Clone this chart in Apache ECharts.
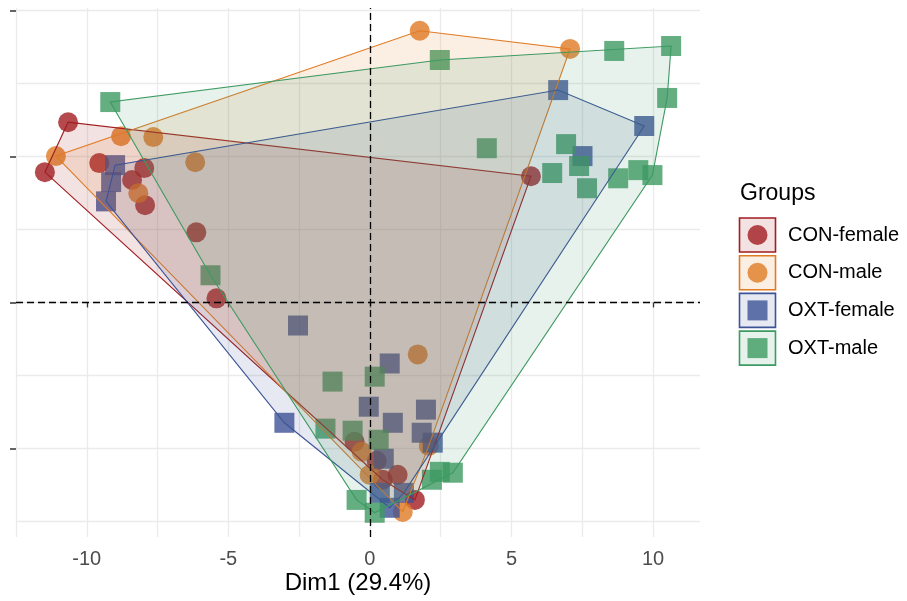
<!DOCTYPE html>
<html>
<head>
<meta charset="utf-8">
<script src="https://cdn.jsdelivr.net/npm/echarts@6/dist/echarts.min.js"></script>
<style>
html,body{margin:0;padding:0;background:#fff;}
#chart{width:907px;height:601px;}
</style>
</head>
<body>
<div id="chart"></div>
<script>
// ---- Data (Dim1, Dim2) ----
const groups = ['CON-female', 'CON-male', 'OXT-female', 'OXT-male'];
const groupColors = ['#A11D21', '#E07B24', '#3C5396', '#3D9A62'];
const groupShapes = ['circle', 'circle', 'rect', 'rect'];

const conFemaleX = [-10.66, -11.48, -9.56, -7.97, -8.40, -7.94, -6.13, -5.42, 5.69, -0.54, 0.24, 0.45, 0.98, 1.59];
const conFemaleY = [6.17, 4.46, 4.77, 4.60, 4.19, 3.33, 2.40, 0.14, 4.32, -4.77, -5.42, -6.07, -5.90, -6.76];

const conMaleX = [1.76, 7.07, -11.09, -8.79, -7.65, -6.17, -8.18, 1.69, 2.08, -0.29, -0.01, 1.16];
const conMaleY = [9.30, 8.68, 5.01, 5.69, 5.66, 4.80, 3.74, -1.78, -4.91, -5.11, -5.90, -7.17];

const oxtFemaleX = [6.65, 9.69, 7.51, -9.00, -9.14, -9.32, -2.54, 0.70, -0.04, 1.98, 0.81, 1.83, 2.22, -3.02, 0.49, 0.35, 0.70, 1.20];
const oxtFemaleY = [7.27, 6.04, 5.01, 4.70, 4.12, 3.46, -0.79, -2.09, -3.57, -3.67, -4.12, -4.46, -4.80, -4.12, -5.35, -6.52, -7.03, -6.52];

const oxtMaleX = [-9.17, 2.47, 8.63, 10.64, 10.50, 4.13, 6.93, 6.44, 7.39, 7.67, 8.77, 9.48, 9.98, -5.63, -1.32, 0.17, -1.57, -0.61, 0.31, -0.47, 0.17, 2.19, 2.93, 2.47];
const oxtMaleY = [6.86, 8.30, 8.61, 8.78, 7.00, 5.28, 5.42, 4.43, 4.67, 3.91, 4.25, 4.53, 4.36, 0.93, -2.71, -2.54, -4.32, -4.39, -4.70, -6.76, -7.20, -6.07, -5.83, -5.80];

const xTicks = [-10, -5, 0, 5, 10];
const yTicks = [-5, 0, 5, 10];
const xGrid = [-12.5, -10, -7.5, -5, -2.5, 0, 2.5, 5, 7.5, 10];
const yGrid = [-7.5, -5, -2.5, 0, 2.5, 5, 7.5, 10];
const xTitle = 'Dim1 (29.4%)';
const legendTitle = 'Groups';

// ---- helpers ----
const groupX = [conFemaleX, conMaleX, oxtFemaleX, oxtMaleX];
const groupY = [conFemaleY, conMaleY, oxtFemaleY, oxtMaleY];

function hexA(hex, a) {
  const n = parseInt(hex.slice(1), 16);
  return 'rgba(' + ((n >> 16) & 255) + ',' + ((n >> 8) & 255) + ',' + (n & 255) + ',' + a + ')';
}

function convexHull(pts) {
  const p = pts.slice().sort((a, b) => a[0] - b[0] || a[1] - b[1]);
  const cross = (o, a, b) => (a[0] - o[0]) * (b[1] - o[1]) - (a[1] - o[1]) * (b[0] - o[0]);
  const lower = [];
  for (const q of p) {
    while (lower.length >= 2 && cross(lower[lower.length - 2], lower[lower.length - 1], q) <= 0) lower.pop();
    lower.push(q);
  }
  const upper = [];
  for (let i = p.length - 1; i >= 0; i--) {
    const q = p[i];
    while (upper.length >= 2 && cross(upper[upper.length - 2], upper[upper.length - 1], q) <= 0) upper.pop();
    upper.push(q);
  }
  upper.pop(); lower.pop();
  return lower.concat(upper);
}

const FONT = "'Liberation Sans', Arial, sans-serif";
const FILL_ALPHA = 0.13;
const POINT_ALPHA = 0.8;

const series = [];
groups.forEach((g, i) => {
  const pts = groupX[i].map((x, k) => [x, groupY[i][k]]);
  series.push({
    name: g,
    type: 'scatter',
    data: pts,
    symbol: groupShapes[i],
    symbolSize: 20,
    itemStyle: { color: groupColors[i], opacity: POINT_ALPHA },
    z: 2,
    silent: true
  });
});
groups.forEach((g, i) => {
  const pts = groupX[i].map((x, k) => [x, groupY[i][k]]);
  const hull = convexHull(pts);
  series.push({
    name: g + ' hull',
    type: 'custom',
    data: [hull[0]],
    z: 3,
    silent: true,
    renderItem: function (params, api) {
      return {
        type: 'polygon',
        shape: { points: hull.map(h => api.coord(h)) },
        style: { fill: hexA(groupColors[i], FILL_ALPHA), stroke: groupColors[i], lineWidth: 1.1 }
      };
    }
  });
});
// reference lines at 0
series.push({
  type: 'scatter',
  data: [],
  z: 10,
  silent: true,
  markLine: {
    silent: true,
    symbol: 'none',
    label: { show: false },
    lineStyle: { type: [7, 4], color: '#000', width: 1.3 },
    data: [{ xAxis: 0 }, { yAxis: 0 }]
  }
});

// ---- legend as graphics ----
const legendEls = [];
legendEls.push({
  type: 'text', left: 740, top: 182,
  style: { text: legendTitle, fontFamily: FONT, fontSize: 23, fill: '#000' }
});
groups.forEach((g, i) => {
  const y0 = 218 + i * 37.7;
  legendEls.push({
    type: 'rect', shape: { x: 739.5, y: y0, width: 36, height: 34 },
    style: { fill: hexA(groupColors[i], FILL_ALPHA), stroke: groupColors[i], lineWidth: 1.6 }
  });
  if (groupShapes[i] === 'circle') {
    legendEls.push({ type: 'circle', shape: { cx: 757.5, cy: y0 + 17, r: 10 },
      style: { fill: groupColors[i], opacity: POINT_ALPHA } });
  } else {
    legendEls.push({ type: 'rect', shape: { x: 747.5, y: y0 + 7, width: 20, height: 20 },
      style: { fill: groupColors[i], opacity: POINT_ALPHA } });
  }
  legendEls.push({
    type: 'text', x: 788, y: y0 + 17,
    style: { text: g, fontFamily: FONT, fontSize: 20, fill: '#000', textVerticalAlign: 'middle' }
  });
});

const xMin = -12.5, xMax = 11.66, yMin = -8.03, yMax = 10.08;

const option = {
  animation: false,
  backgroundColor: '#fff',
  grid: { left: 16, right: 207, top: 8, bottom: 64, containLabel: false },
  xAxis: [
    {
      type: 'value', min: xMin, max: xMax,
      name: xTitle, nameLocation: 'middle', nameGap: 34,
      nameTextStyle: { fontFamily: FONT, fontSize: 24, color: '#000' },
      axisLine: { show: false },
      axisTick: { show: false, customValues: xGrid },
      axisLabel: { show: false, customValues: xGrid },
      splitLine: { show: true, lineStyle: { color: '#EBEBEB', width: 1.3 } }
    },
    {
      type: 'value', min: xMin, max: xMax, position: 'bottom',
      axisLine: { show: false },
      axisTick: { show: true, inside: false, length: 5, customValues: xTicks, lineStyle: { color: '#333', width: 1.3 } },
      axisLabel: { show: true, customValues: xTicks, margin: 12, fontFamily: FONT, fontSize: 20, color: '#4D4D4D' },
      splitLine: { show: false }
    }
  ],
  yAxis: [
    {
      type: 'value', min: yMin, max: yMax,
      axisLine: { show: false },
      axisTick: { show: false, customValues: yGrid },
      axisLabel: { show: false, customValues: yGrid },
      splitLine: { show: true, lineStyle: { color: '#EBEBEB', width: 1.3 } }
    },
    {
      type: 'value', min: yMin, max: yMax, position: 'left',
      axisLine: { show: false, onZero: false },
      axisTick: { show: true, inside: false, length: 6, customValues: yTicks, lineStyle: { color: '#333', width: 1.5 } },
      axisLabel: { show: true, customValues: yTicks, formatter: function () { return ''; } },
      splitLine: { show: false }
    }
  ],
  graphic: legendEls,
  series: series
};

const chart = echarts.init(document.getElementById('chart'), null, { renderer: 'canvas' });
chart.setOption(option);
</script>
</body>
</html>
